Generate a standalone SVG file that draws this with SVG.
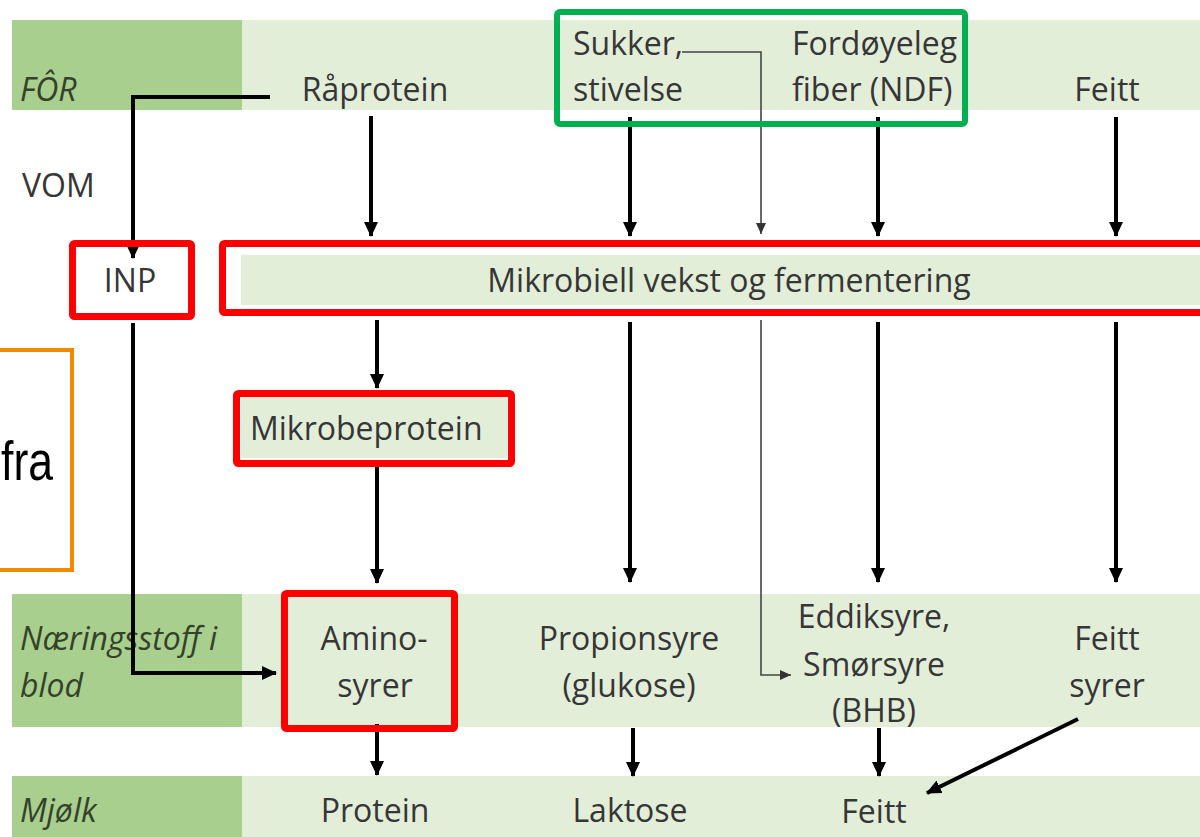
<svg xmlns="http://www.w3.org/2000/svg" width="1200" height="837" viewBox="0 0 1200 837">
<style>
.dark{fill:#a9cf8e}
.light{fill:#e3eed9}
.t{font-family:"Open Sans","Liberation Sans",sans-serif;font-size:32px;fill:#363636}
.c{text-anchor:middle}
.it{font-style:italic;fill:#34422a}
.red{fill:none;stroke:#ff0000;stroke-width:7}
.arr{fill:none;stroke:#000;stroke-width:4}
.thin{fill:none;stroke:#444;stroke-width:1.6}
</style>
<defs>
<marker id="ah" markerUnits="userSpaceOnUse" markerWidth="16" markerHeight="16" refX="14" refY="8" orient="auto">
<path d="M0,1 L15,8 L0,15 Z" fill="#000"/>
</marker>
<marker id="ahs" markerUnits="userSpaceOnUse" markerWidth="12" markerHeight="12" refX="11" refY="6" orient="auto">
<path d="M0,1 L11,6 L0,11 Z" fill="#333"/>
</marker>
</defs>
<rect width="1200" height="837" fill="#fff"/>
<g id="rows">
<rect class="light" x="12" y="20" width="1188" height="90"/>
<rect class="dark" x="12" y="20" width="230" height="90"/>
<rect class="light" x="12" y="594" width="1188" height="133"/>
<rect class="dark" x="12" y="594" width="230" height="133"/>
<rect class="light" x="12" y="776" width="1188" height="61"/>
<rect class="dark" x="12" y="776" width="230" height="61"/>
</g>
<g id="row-labels">
<text class="t it" x="20" y="101">FÔR</text>
<text class="t" x="22" y="197">VOM</text>
<text class="t it" x="20" y="650">Næringsstoff i</text>
<text class="t it" x="20" y="697">blod</text>
<text class="t it" x="20" y="822">Mjølk</text>
</g>
<g id="connectors">
<line class="arr" x1="371" y1="116" x2="371" y2="236" marker-end="url(#ah)"/>
<line class="arr" x1="630" y1="117" x2="630" y2="236" marker-end="url(#ah)"/>
<line class="arr" x1="878" y1="117" x2="878" y2="236" marker-end="url(#ah)"/>
<line class="arr" x1="1116" y1="117" x2="1116" y2="236" marker-end="url(#ah)"/>
<line class="arr" x1="377" y1="320" x2="377" y2="388" marker-end="url(#ah)"/>
<line class="arr" x1="377" y1="466" x2="377" y2="583" marker-end="url(#ah)"/>
<line class="arr" x1="630" y1="322" x2="630" y2="582" marker-end="url(#ah)"/>
<line class="arr" x1="878" y1="322" x2="878" y2="582" marker-end="url(#ah)"/>
<line class="arr" x1="1116" y1="322" x2="1116" y2="582" marker-end="url(#ah)"/>
<line class="arr" x1="377" y1="724" x2="377" y2="775" marker-end="url(#ah)"/>
<line class="arr" x1="633" y1="728" x2="633" y2="776" marker-end="url(#ah)"/>
<line class="arr" x1="879" y1="728" x2="879" y2="776" marker-end="url(#ah)"/>
<line class="arr" x1="1078" y1="719" x2="927" y2="793" marker-end="url(#ah)"/>
<path class="arr" d="M270,97 H133 V258" marker-end="url(#ah)"/>
<path class="arr" d="M133,323 V673 H276" marker-end="url(#ah)"/>
<path class="thin" d="M682,52 H761 V234" marker-end="url(#ahs)"/>
<path class="thin" d="M761,320 V675 H791" marker-end="url(#ahs)"/>
</g>
<g id="for-raprotein"><text class="t c" x="375" y="101">Råprotein</text></g>
<g id="for-karbohydrat">
<text class="t" x="573" y="55">Sukker,</text>
<text class="t" x="573" y="101">stivelse</text>
<text class="t" x="792" y="55">Fordøyeleg</text>
<text class="t" x="792" y="101">fiber (NDF)</text>
<rect x="557" y="12" width="408" height="112" rx="3" fill="none" stroke="#00b050" stroke-width="6"/>
</g>
<g id="for-feitt"><text class="t c" x="1107" y="101">Feitt</text></g>
<g id="inp">
<text class="t c" x="130" y="292">INP</text>
<rect class="red" x="72.5" y="243.5" width="119" height="73" rx="2"/>
</g>
<g id="mikrobiell">
<rect class="light" x="241" y="255" width="959" height="50"/>
<text class="t c" x="729" y="292">Mikrobiell vekst og fermentering</text>
<rect class="red" x="222.5" y="243.5" width="990" height="69" rx="2"/>
</g>
<g id="orange-box">
<rect x="-10" y="350" width="82" height="220" fill="none" stroke="#f28a00" stroke-width="4"/>
<text x="1" y="480" textLength="52" lengthAdjust="spacingAndGlyphs" font-family="Liberation Sans, Arial, sans-serif" font-size="56" fill="#000">fra</text>
</g>
<g id="mikrobeprotein">
<rect class="light" x="241" y="397" width="266" height="61"/>
<text class="t" x="250" y="440">Mikrobeprotein</text>
<rect class="red" x="236.5" y="393.5" width="275" height="70" rx="2"/>
</g>
<g id="aminosyrer">
<text class="t c" x="374" y="650">Amino-</text>
<text class="t c" x="375" y="697">syrer</text>
<rect class="red" x="284.5" y="593.5" width="170" height="135" rx="2"/>
</g>
<g id="propionsyre">
<text class="t c" x="629" y="650">Propionsyre</text>
<text class="t c" x="629" y="697">(glukose)</text>
</g>
<g id="eddiksyre">
<text class="t c" x="874" y="628">Eddiksyre,</text>
<text class="t c" x="874" y="676">Smørsyre</text>
<text class="t c" x="874" y="722">(BHB)</text>
</g>
<g id="feittsyrer">
<text class="t c" x="1107" y="650">Feitt</text>
<text class="t c" x="1107" y="697">syrer</text>
</g>
<g id="mjolk-protein"><text class="t c" x="375" y="822">Protein</text></g>
<g id="mjolk-laktose"><text class="t c" x="630" y="822">Laktose</text></g>
<g id="mjolk-feitt"><text class="t c" x="874" y="823">Feitt</text></g>
</svg>
